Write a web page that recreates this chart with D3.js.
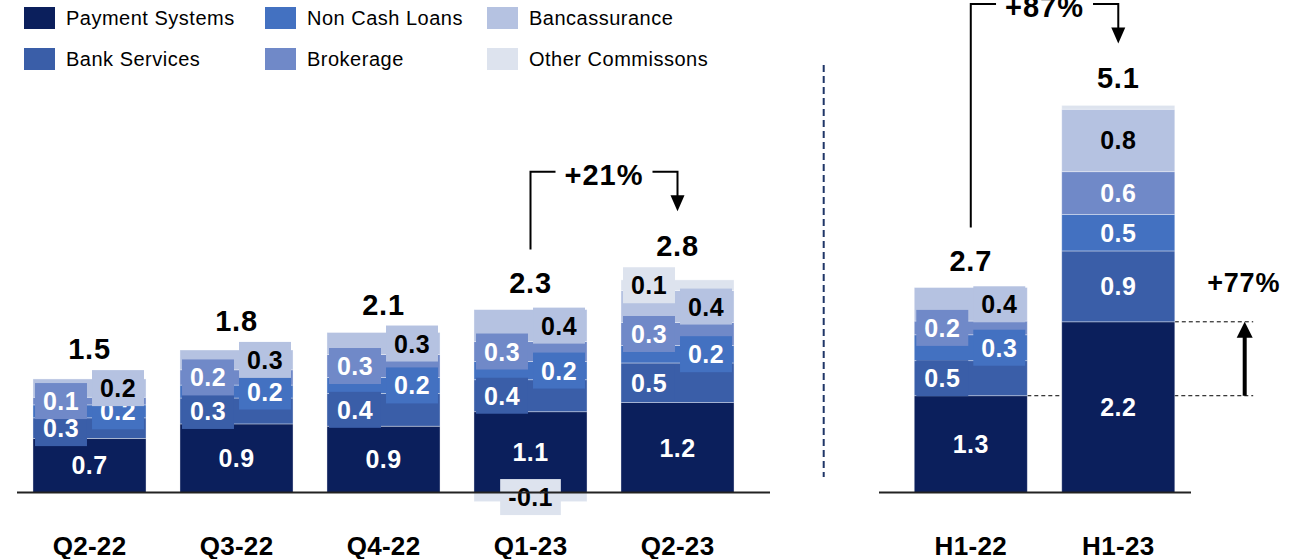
<!DOCTYPE html>
<html>
<head>
<meta charset="utf-8">
<script src="https://cdn.jsdelivr.net/npm/d3@7"></script>
<style>
  html, body { margin: 0; padding: 0; background: #fff; }
  svg { display: block; font-family: "Liberation Sans", Arial, sans-serif; }
</style>
</head>
<body>
<svg id="chart" width="1289" height="559"></svg>
<script>
// categories
const quarters = ["Q2-22", "Q3-22", "Q4-22", "Q1-23", "Q2-23"];
const halves = ["H1-22", "H1-23"];
const seriesNames = ["Payment Systems", "Bank Services", "Non Cash Loans", "Brokerage", "Bancassurance", "Other Commissons"];
const seriesColors = ["#0b1f5c", "#3a5ea8", "#4371c1", "#7089c8", "#b5c2e1", "#dde3ee"];

// values, order: Q2-22, Q3-22, Q4-22, Q1-23, Q2-23, H1-22, H1-23
const paymentSystems   = [0.71, 0.90, 0.87, 1.06, 1.18, 1.27, 2.24];
const bankServices     = [0.27, 0.34, 0.43, 0.42, 0.52, 0.46, 0.93];
const nonCashLoans     = [0.17, 0.17, 0.21, 0.24, 0.23, 0.34, 0.48];
const brokerage        = [0.10, 0.20, 0.30, 0.26, 0.30, 0.18, 0.56];
const bancassurance    = [0.24, 0.26, 0.29, 0.42, 0.42, 0.44, 0.82];
const otherCommissions = [0, 0, 0, -0.12, 0.14, 0, 0.05];
const totals           = [1.5, 1.8, 2.1, 2.3, 2.8, 2.7, 5.1];

const growthQ = "+21%";
const growthH = "+87%";
const growthPayment = "+77%";

const categories = quarters.concat(halves);
const seriesValues = [paymentSystems, bankServices, nonCashLoans, brokerage, bancassurance, otherCommissions];
const rows = categories.map((c, i) => {
  const r = { cat: c, total: totals[i] };
  seriesNames.forEach((s, k) => r[s] = seriesValues[k][i]);
  return r;
});

const svg = d3.select("#chart");
const font = "'Liberation Sans', Arial, sans-serif";

const baseY = 492.5;
const y = d3.scaleLinear().domain([0, 5]).range([baseY, baseY - 5 * 76.2]);

const xLeft = d3.scaleBand().domain(quarters).range([16, 751]).paddingInner(0.231).paddingOuter(0.1155);
const xRight = d3.scaleBand().domain(halves).range([897, 1192]).paddingInner(0.234).paddingOuter(0.117);
const xOf = c => quarters.includes(c) ? xLeft(c) : xRight(c);
const bw = xLeft.bandwidth();
const cx = c => xOf(c) + bw / 2;

const centeredCats = ["H1-23"];

const stacked = d3.stack().keys(seriesNames).offset(d3.stackOffsetDiverging)(rows);

// dashed helper lines for +77% (behind bars)
const yPayH22 = y(paymentSystems[5]);
const yPayH23 = y(paymentSystems[6]);
const arrowX = 1244.7;
svg.append("line")
  .attr("x1", xRight("H1-22") + bw).attr("x2", arrowX + 8.5)
  .attr("y1", yPayH22).attr("y2", yPayH22)
  .attr("stroke", "#000").attr("stroke-width", 1).attr("stroke-dasharray", "4,3");
svg.append("line")
  .attr("x1", xRight("H1-23") + bw).attr("x2", arrowX + 8.5)
  .attr("y1", yPayH23).attr("y2", yPayH23)
  .attr("stroke", "#000").attr("stroke-width", 1).attr("stroke-dasharray", "4,3");

// bars
const barG = svg.append("g");
stacked.forEach((layer, k) => {
  barG.append("g")
    .selectAll("rect")
    .data(layer.filter(d => d[1] !== d[0]))
    .join("rect")
    .attr("x", d => xOf(d.data.cat))
    .attr("y", d => y(Math.max(d[0], d[1])))
    .attr("width", bw)
    .attr("height", d => Math.abs(y(d[0]) - y(d[1])))
    .attr("fill", seriesColors[k])
    .attr("stroke", "rgba(255,255,255,0.45)")
    .attr("stroke-width", 0.8);
});

// segment labels
const fmt = v => v.toFixed(1);
const boxTop = {};
categories.forEach(c => boxTop[c] = Infinity);
const labelG = svg.append("g");
stacked.forEach((layer, k) => {
  layer.forEach(d => {
    const c = d.data.cat;
    const v = d.data[seriesNames[k]];
    if (Math.abs(v) < 0.08) return;
    const centered = k === 0 || v < 0 || centeredCats.includes(c);
    const withBox = k > 0 && !(centeredCats.includes(c) && v > 0);
    let x = cx(c);
    if (!centered) x += (k % 2 === 1) ? -28.5 : 28.5;
    const yc = y((d[0] + d[1]) / 2);
    const g = labelG.append("g");
    const rect = g.append("rect").attr("fill", seriesColors[k]);
    const t = g.append("text")
      .attr("x", x).attr("y", yc).attr("dy", "0.36em")
      .attr("text-anchor", "middle")
      .attr("font-family", font).attr("font-weight", "bold").attr("font-size", 25)
      .attr("letter-spacing", 0.4)
      .attr("fill", k >= 4 ? "#000" : "#fff")
      .text(fmt(v));
    if (withBox) {
      const tw = t.node().getComputedTextLength();
      rect.attr("x", x - tw / 2 - 8).attr("width", tw + 16)
        .attr("y", yc - 18).attr("height", 36);
      boxTop[c] = Math.min(boxTop[c], yc - 19);
    } else {
      rect.remove();
    }
  });
});

// totals
const totalBase = {};
rows.forEach(r => {
  const top = y(d3.sum(seriesNames, s => Math.max(0, r[s])));
  totalBase[r.cat] = Math.min(top - 17, boxTop[r.cat] - 10);
});
svg.append("g")
  .selectAll("text")
  .data(rows)
  .join("text")
  .attr("x", d => cx(d.cat))
  .attr("y", d => totalBase[d.cat])
  .attr("text-anchor", "middle")
  .attr("font-family", font).attr("font-weight", "bold").attr("font-size", 29)
  .attr("letter-spacing", 0.8)
  .attr("fill", "#000")
  .text(d => fmt(d.total));

// baselines
svg.append("line").attr("x1", 17).attr("x2", 770).attr("y1", baseY).attr("y2", baseY)
  .attr("stroke", "#222").attr("stroke-width", 2);
svg.append("line").attr("x1", 879).attr("x2", 1191).attr("y1", baseY).attr("y2", baseY)
  .attr("stroke", "#222").attr("stroke-width", 2);

// axes labels
[xLeft, xRight].forEach(sc => {
  const ax = svg.append("g")
    .attr("transform", `translate(0,${baseY})`)
    .call(d3.axisBottom(sc).tickSize(0).tickPadding(44));
  ax.select(".domain").remove();
  ax.selectAll("text")
    .attr("font-family", font).attr("font-weight", "bold").attr("font-size", 26)
    .attr("letter-spacing", 0.3)
    .attr("fill", "#000");
});

// separator
svg.append("line").attr("x1", 823.7).attr("x2", 823.7).attr("y1", 65).attr("y2", 477)
  .attr("stroke", "#1f3567").attr("stroke-width", 2).attr("stroke-dasharray", "7,4");

// growth brackets
function bracket(c1, c2, label) {
  const x1 = cx(c1), x2 = cx(c2);
  const start = totalBase[c1] - 43;
  const tip = totalBase[c2] - 45;
  const top = tip - 39.4;
  svg.append("path")
    .attr("d", `M${x1},${start}V${top}H${x2}V${tip - 14}`)
    .attr("fill", "none").attr("stroke", "#000").attr("stroke-width", 2);
  svg.append("path")
    .attr("d", `M${x2 - 7},${tip - 16}L${x2 + 7},${tip - 16}L${x2},${tip}Z`)
    .attr("fill", "#000");
  const mid = (x1 + x2) / 2;
  const bg = svg.append("rect").attr("fill", "#fff");
  const t = svg.append("text")
    .attr("x", mid).attr("y", top).attr("dy", "0.45em")
    .attr("text-anchor", "middle")
    .attr("font-family", font).attr("font-weight", "bold").attr("font-size", 29)
    .attr("letter-spacing", 1)
    .text(label);
  const tw = t.node().getComputedTextLength();
  bg.attr("x", mid - tw / 2 - 9).attr("width", tw + 18).attr("y", top - 12).attr("height", 24);
}
bracket("Q1-23", "Q2-23", growthQ);
bracket("H1-22", "H1-23", growthH);

// +77% arrow
svg.append("line").attr("x1", arrowX).attr("x2", arrowX)
  .attr("y1", yPayH22).attr("y2", yPayH23 + 14)
  .attr("stroke", "#000").attr("stroke-width", 4);
svg.append("path")
  .attr("d", `M${arrowX - 8},${yPayH23 + 16}L${arrowX + 8},${yPayH23 + 16}L${arrowX},${yPayH23}Z`)
  .attr("fill", "#000");
svg.append("text")
  .attr("x", arrowX - 1).attr("y", yPayH23 - 30)
  .attr("text-anchor", "middle")
  .attr("font-family", font).attr("font-weight", "bold").attr("font-size", 27)
  .attr("letter-spacing", 0.8)
  .text(growthPayment);

// legend
const legendX = [24, 265, 487];
const legendY = [7, 48];
const lg = svg.append("g")
  .selectAll("g")
  .data(seriesNames)
  .join("g")
  .attr("transform", (d, i) => `translate(${legendX[Math.floor(i / 2)]},${legendY[i % 2]})`);
lg.append("rect").attr("width", 31).attr("height", 22).attr("fill", (d, i) => seriesColors[i]);
lg.append("text")
  .attr("x", 42).attr("y", 11).attr("dy", "0.36em")
  .attr("font-family", font).attr("font-size", 20).attr("fill", "#000")
  .attr("letter-spacing", 0.5)
  .text(d => d);
</script>
</body>
</html>
